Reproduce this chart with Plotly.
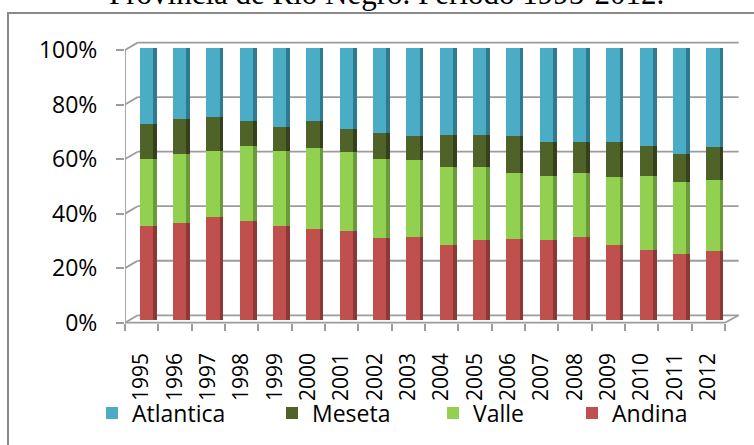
import numpy as np
import plotly.graph_objects as go

years = [str(y) for y in range(1995, 2013)]
andina = [34.4, 35.8, 37.8, 36.4, 34.6, 33.6, 32.9, 30.2, 30.7, 27.6, 29.4, 29.8, 29.4, 30.4, 27.5, 25.8, 24.2, 25.5]
valle = [24.7, 25.4, 24.5, 27.4, 27.4, 29.7, 28.7, 28.9, 28.0, 28.8, 26.8, 24.2, 23.6, 23.6, 24.9, 27.0, 26.6, 25.8]
meseta = [13.0, 12.7, 12.3, 9.2, 8.9, 9.8, 8.8, 9.6, 9.0, 11.6, 11.7, 13.5, 12.6, 11.3, 12.9, 11.0, 10.3, 12.3]
atlantica = [27.9, 26.1, 25.4, 27.0, 29.1, 26.9, 29.6, 31.3, 32.3, 32.0, 32.1, 32.5, 34.4, 34.7, 34.7, 36.2, 38.9, 36.4]
y_ticks = [0, 20, 40, 60, 80, 100]
y_ticktext = [f"{t}%" for t in y_ticks]
title_text = "Provincia de Río Negro. Período 1995-2012."

W, H = 754, 445
ML, MR, MT, MB = 125, 14, 30, 115
PH = H - MT - MB
# bar axis: 0 -> 320px, 100 -> 48px
pxu = (320 - 48) / 100.0
y_lo = -(H - MB - 320) / pxu
y_hi = 100 + (48 - MT) / pxu
# front axis: 0 -> 322.7px, 100 -> 50px
pxu2 = (322.7 - 50) / 100.0
y2_lo = -(H - MB - 322.7) / pxu2
y2_hi = 100 + (50 - MT) / pxu2

series = [
    ("Andina", andina, "#C0504D", "#8C3836"),
    ("Valle", valle, "#92D050", "#6A9A3A"),
    ("Meseta", meseta, "#4F6228", "#34411A"),
    ("Atlantica", atlantica, "#4BACC6", "#2F7A90"),
]
legend_ids = {"Atlantica": "legend", "Meseta": "legend2", "Valle": "legend3", "Andina": "legend4"}

fig = go.Figure()
base = np.zeros(len(years))
for name, vals, col, side in series:
    v = np.array(vals, dtype=float)
    fig.add_trace(go.Bar(x=years, y=v, base=base, name=name, marker_color=col,
                         marker_line_width=0, width=0.40, offset=-0.06,
                         legend=legend_ids[name]))
    fig.add_trace(go.Bar(x=years, y=v, base=base, name=name + " side", marker_color=side,
                         marker_line_width=0, width=0.11, offset=0.34,
                         showlegend=False, hoverinfo="skip"))
    base = base + v

fig.add_trace(go.Scatter(x=[], y=[], yaxis="y2", showlegend=False))

grid_col = "#9C9C9C"
shapes = []
n = len(years)
dx, dy = 12.6, 7.4
for t in y_ticks:
    shapes.append(dict(type="line", xref="x", xsizemode="pixel", xanchor=-0.5, x0=0, x1=dx,
                       yref="y2", ysizemode="pixel", yanchor=t, y0=0, y1=dy,
                       line=dict(color=grid_col, width=1.8), layer="below"))
    shapes.append(dict(type="line", xref="x", xsizemode="pixel", xanchor=-0.5, x0=dx, x1=dx + 601,
                       yref="y2", ysizemode="pixel", yanchor=t, y0=dy, y1=dy,
                       line=dict(color=grid_col, width=1.8), layer="below"))
shapes.append(dict(type="line", xref="x", xsizemode="pixel", xanchor=n - 0.5, x0=0, x1=dx + 1,
                   yref="y2", ysizemode="pixel", yanchor=0, y0=0, y1=dy,
                   line=dict(color=grid_col, width=1.8), layer="below"))
shapes.append(dict(type="line", xref="x", x0=-0.5, x1=n - 0.5, yref="y2", y0=0, y1=0,
                   line=dict(color=grid_col, width=1.8), layer="below"))
shapes.append(dict(type="line", xref="x", x0=-0.5, x1=-0.5, yref="y2", y0=0, y1=100,
                   line=dict(color=grid_col, width=1.8), layer="below"))
PW = W - ML - MR
def fx(px):
    return (px - ML) / PW
def fy(py):
    return (H - MB - py) / PH
shapes.append(dict(type="rect", xref="paper", yref="paper", x0=fx(8), x1=fx(790), y0=fy(13), y1=fy(480),
                   line=dict(color="#8A8A8A", width=2), fillcolor="rgba(0,0,0,0)", layer="below"))

fig.update_layout(
    width=W, height=H,
    margin=dict(l=ML, r=MR, t=MT, b=MB, autoexpand=False),
    paper_bgcolor="white", plot_bgcolor="white",
    barmode="overlay", bargap=0,
    font=dict(family="Open Sans", color="#000000"),
    xaxis=dict(type="category", range=[-0.5, n - 0.5 + 15 / 33.33], anchor="free",
               position=fy(322.7), showgrid=False, zeroline=False, showline=False, automargin=False,
               ticks="outside", tickson="boundaries", ticklen=7, tickwidth=1.8, tickcolor=grid_col,
               tickangle=-90, tickfont=dict(family="Open Sans", size=21, color="#000"),
               ticklabelstandoff=25),
    yaxis=dict(range=[y_lo, y_hi], showgrid=False, zeroline=False, showticklabels=False,
               ticks="", showline=False, automargin=False),
    yaxis2=dict(range=[y2_lo, y2_hi], overlaying="y", side="left", anchor="x", automargin=False,
                tickmode="array", tickvals=y_ticks, ticktext=y_ticktext, ticks="outside", ticklen=8,
                tickwidth=1.8, tickcolor=grid_col, showgrid=False, zeroline=False, showline=False,
                tickfont=dict(family="Open Sans", size=23, color="#000"), ticklabelstandoff=14),
    shapes=shapes,
    annotations=[dict(text=title_text, xref="paper", yref="paper", x=fx(386), y=fy(13),
                      xanchor="center", yanchor="bottom", showarrow=False,
                      font=dict(family="Liberation Serif", size=31, color="#000"))],
)

leg_common = dict(orientation="h", xref="container", yref="container", xanchor="left",
                  yanchor="middle", y=(H - 413) / H, font=dict(family="Open Sans", size=23, color="#000"),
                  bgcolor="rgba(0,0,0,0)", itemclick=False)
fig.update_layout(
    legend=dict(x=(135 - 43) / W, **leg_common),
    legend2=dict(x=(315 - 43) / W, **leg_common),
    legend3=dict(x=(476 - 43) / W, **leg_common),
    legend4=dict(x=(615 - 43) / W, **leg_common),
)

fig.write_html("out.html", config={"displayModeBar": False},
               post_script="document.body.style.margin='0';document.body.style.overflow='hidden';")
